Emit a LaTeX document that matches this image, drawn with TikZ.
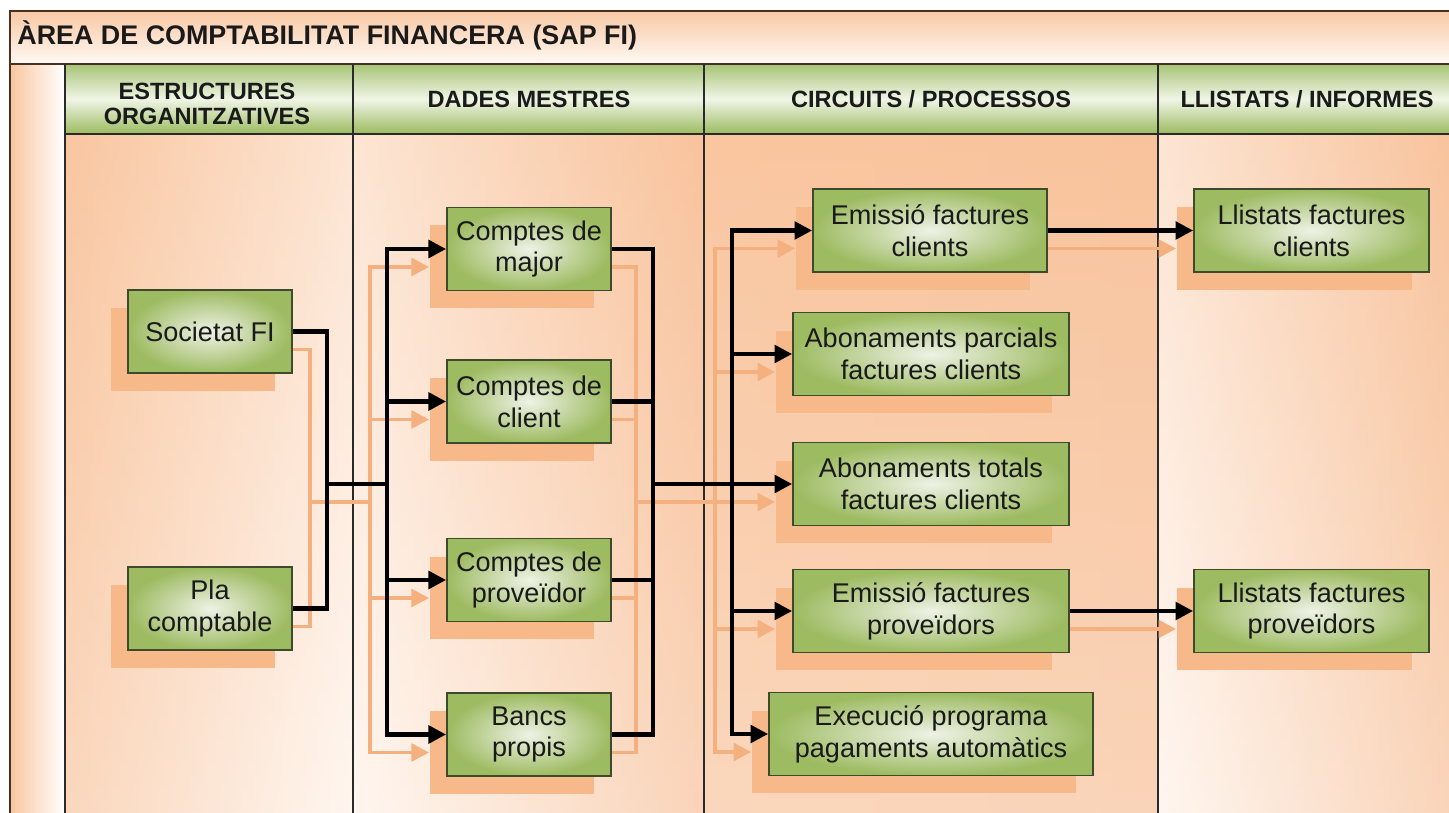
\documentclass[tikz,border=0pt]{standalone}
\usepackage{fontspec}
\setmainfont{Liberation Sans}
\usetikzlibrary{arrows.meta,shadows,calc}
\pgfdeclarelayer{back}
\pgfdeclarelayer{ghostlayer}
\pgfsetlayers{back,ghostlayer,main}
\definecolor{titletop}{HTML}{F8C8A4}
\definecolor{titlebot}{HTML}{FFF9F4}
\definecolor{hdrtop}{HTML}{A7C476}
\definecolor{hdrmid}{HTML}{F0F5E6}
\definecolor{hdrbot}{HTML}{9BBB5F}
\definecolor{gin}{HTML}{EEF2E6}
\definecolor{gout}{HTML}{9DBB61}
\definecolor{boxline}{HTML}{3E4A2C}
\definecolor{txt}{HTML}{1A1A1A}
\definecolor{shadowc}{HTML}{F7B88A}
\definecolor{ghostc}{HTML}{F4B07E}
\definecolor{peachA}{HTML}{F9C6A0}
\definecolor{peachB}{HTML}{F8C29B}
\definecolor{lightA}{HTML}{FFF3EA}
\definecolor{lightB}{HTML}{FDE6D6}
\definecolor{framec}{HTML}{4A3020}
\definecolor{divc}{HTML}{2A2A2A}
\newcommand\boxfont{\fontsize{15.4}{18.2}\selectfont}
\newcommand\hdrfont{\bfseries\fontsize{13.4}{14.6}\selectfont}
\newcommand\ttlfont{\bfseries\fontsize{15.3}{18}\selectfont}
\tikzset{
  box/.style={draw=boxline, line width=1.1pt, inner color=gin, outer color=gout,
    minimum height=1.66cm, align=center, text=txt, font=\boxfont, inner sep=2pt,
    drop shadow={shadow xshift=-0.34cm, shadow yshift=-0.36cm, fill=shadowc, opacity=1}},
  hdr/.style={align=center, text=txt, font=\hdrfont, inner sep=0pt},
  conn/.style={line width=2.3pt, draw=black, line join=miter},
  arr/.style={conn, -{Triangle[length=10pt,width=10pt]}},
  ghost/.style={line width=2.1pt, draw=ghostc, line join=miter},
  garr/.style={ghost, -{Triangle[length=10pt,width=10pt]}},
  framel/.style={draw=framec, line width=1.2pt},
  divl/.style={draw=divc, line width=0.9pt},
}
\begin{document}
\begin{tikzpicture}[x=0.02cm,y=-0.02cm]
\useasboundingbox (0,0) rectangle (1449,813);
\begin{pgfonlayer}{back}
\begin{scope}
\clip (0,0) rectangle (1449,813);
\fill[white] (0,0) rectangle (1449,813);
% title band
\shade[top color=titletop, bottom color=titlebot] (10,11) rectangle (1452,64);
% header row
\shade[top color=hdrtop, bottom color=hdrbot, middle color=hdrmid] (65,64) rectangle (1452,134);
% left strip
\shade[left color=peachA, right color=white] (10,64) rectangle (65,816);
% column backgrounds
\shade[left color=peachA, right color=lightA] (65,134) rectangle (353,816);
\shade[left color=lightA, right color=peachB] (353,134) rectangle (704,816);
\shade[left color=peachA, middle color=lightB, right color=peachB] (704,134) rectangle (1158,816);
\shade[left color=lightA, right color=peachB] (1158,134) rectangle (1452,816);
\shade[top color=peachA, bottom color=white, opacity=0.3] (65,134) rectangle (1452,816);
% frame and dividers
\draw[framel] (10,816) -- (10,11) -- (1452,11);
\draw[framel] (10,64) -- (1452,64);
\draw[divl] (65,134) -- (1452,134);
\draw[divl] (65,64) -- (65,816);
\draw[divl] (353,64) -- (353,816);
\draw[divl] (704,64) -- (704,816);
\draw[divl] (1158,64) -- (1158,816);
\end{scope}
\end{pgfonlayer}

% title and headers
\node[anchor=base west, text=txt, font=\ttlfont, inner sep=0pt] (title) at (17,45) {ÀREA DE COMPTABILITAT FINANCERA (SAP FI)};
\node[hdr] (h1) at (207,104) {ESTRUCTURES\\ORGANITZATIVES};
\node[hdr] (h2) at (529,99) {DADES MESTRES};
\node[hdr] (h3) at (931,99) {CIRCUITS / PROCESSOS};
\node[hdr] (h4) at (1307,99) {LLISTATS / INFORMES};

% nodes
\node[box, minimum width=3.28cm] (soc) at (210,331.5) {Societat FI};
\node[box, minimum width=3.28cm] (pla) at (210,608.5) {Pla\\comptable};
\node[box, minimum width=3.28cm] (cmaj) at (529,249) {Comptes de\\major};
\node[box, minimum width=3.28cm] (ccli) at (529,401.5) {Comptes de\\client};
\node[box, minimum width=3.28cm] (cprov) at (529,580) {Comptes de\\proveïdor};
\node[box, minimum width=3.28cm] (banc) at (529,734.5) {Bancs\\propis};
\node[box, minimum width=4.68cm] (efc) at (930,230.5) {Emissió factures\\clients};
\node[box, minimum width=5.52cm] (apc) at (931,354) {Abonaments parcials\\factures clients};
\node[box, minimum width=5.52cm] (abt) at (931,484) {Abonaments totals\\factures clients};
\node[box, minimum width=5.52cm] (efp) at (931,611) {Emissió factures\\proveïdors};
\node[box, minimum width=6.48cm] (exe) at (931,734) {Execució programa\\pagaments automàtics};
\node[box, minimum width=4.70cm] (lfc) at (1311.5,230.5) {Llistats factures\\clients};
\node[box, minimum width=4.70cm] (lfp) at (1311.5,611) {Llistats factures\\proveïdors};

% junction points
\coordinate (j1) at (327,484);
\coordinate (b1) at (387,484);
\coordinate (j2) at (653,484);
\coordinate (b3) at (732,484);
\foreach \n in {j1,b1,j2,b3} {\coordinate (\n g) at ([shift={(-17,18)}]\n);}
\foreach \n in {soc,pla,cmaj,ccli,cprov,banc,efc,apc,abt,efp,exe,lfc,lfp} {
  \coordinate (\n-ge) at ([shift={(-17,18)}]\n.east);
  \coordinate (\n-gw) at ([shift={(-17,18)}]\n.west);
}

% ghost (shadow) connectors
\begin{pgfonlayer}{ghostlayer}
\draw[ghost] (soc-ge) -| (j1g) |- (pla-ge);
\draw[ghost] (j1g) -- (b1g);
\draw[garr] (b1g) |- (cmaj-gw);
\draw[garr] (b1g) |- (ccli-gw);
\draw[garr] (b1g) |- (cprov-gw);
\draw[garr] (b1g) |- (banc-gw);
\draw[ghost] (cmaj-ge) -| (j2g);
\draw[ghost] (ccli-ge) -| (j2g);
\draw[ghost] (cprov-ge) -| (j2g);
\draw[ghost] (banc-ge) -| (j2g);
\draw[garr] (j2g) -- (abt-gw);
\draw[garr] (b3g) |- (efc-gw);
\draw[garr] (b3g) |- (apc-gw);
\draw[garr] (b3g) |- (efp-gw);
\draw[garr] (b3g) |- (exe-gw);
\draw[garr] (efc-ge) -- (lfc-gw);
\draw[garr] (efp-ge) -- (lfp-gw);
\end{pgfonlayer}

% black connectors
\draw[conn] (soc.east) -| (j1) |- (pla.east);
\draw[conn] (j1) -- (b1);
\draw[arr] (b1) |- (cmaj.west);
\draw[arr] (b1) |- (ccli.west);
\draw[arr] (b1) |- (cprov.west);
\draw[arr] (b1) |- (banc.west);
\draw[conn] (cmaj.east) -| (j2);
\draw[conn] (ccli.east) -| (j2);
\draw[conn] (cprov.east) -| (j2);
\draw[conn] (banc.east) -| (j2);
\draw[arr] (j2) -- (abt.west);
\draw[arr] (b3) |- (efc.west);
\draw[arr] (b3) |- (apc.west);
\draw[arr] (b3) |- (efp.west);
\draw[arr] (b3) |- (exe.west);
\draw[arr] (efc.east) -- (lfc.west);
\draw[arr] (efp.east) -- (lfp.west);
\end{tikzpicture}
\end{document}
